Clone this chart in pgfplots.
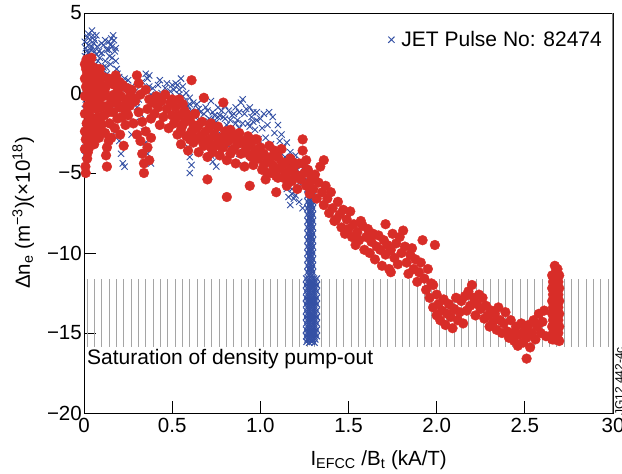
\documentclass[border=0pt]{standalone}
\usepackage{fontspec}
\setmainfont{Liberation Sans}
\usepackage{pgfplots}
\pgfplotsset{compat=1.18}
\definecolor{jblue}{RGB}{52,80,164}
\definecolor{jred}{RGB}{216,45,40}
\definecolor{hatch}{RGB}{165,165,165}
\begin{document}
\begin{tikzpicture}
\begin{axis}[
 scale only axis, width=529bp, height=400bp,
 xmin=0, xmax=3, ymin=-20, ymax=5,
 xtick={0,0.5,1,1.5,2,2.5,3}, xticklabels={0,0.5,1.0,1.5,2.0,2.5,30},
 ytick={-20,-15,-10,-5,0,5}, yticklabels={−20,−15,−10,−5,0,5},
 tick align=inside, xtick pos=bottom, ytick pos=left, major tick length=12bp,
 tick style={black, line width=0.8bp},
 axis line style={black, line width=0.8bp},
 ticklabel style={font=\fontsize{20.5bp}{24bp}\selectfont},
 yticklabel style={inner sep=2bp},
 xticklabel style={inner sep=2bp, yshift=-3bp},
 xlabel={I\textsubscript{EFCC} /B\textsubscript{t} (kA/T)},
 ylabel={Δn\textsubscript{e} (m\textsuperscript{−3})(×10\textsuperscript{18})},
 label style={font=\fontsize{20.5bp}{24bp}\selectfont},
 x label style={at={(axis description cs:0.557,-0.13)}, anchor=base},
 y label style={at={(axis description cs:-0.115,0.5)}, anchor=center},
 legend style={draw=none, fill=none, font=\fontsize{21bp}{25bp}\selectfont,
   at={(rel axis cs:0.985,0.962)}, anchor=north east, inner sep=1bp,
   /tikz/every odd column/.append style={column sep=5bp}},
 legend cell align=left,
]
\pgfplotsinvokeforeach{0,...,71}{
  \draw[hatch, line width=0.9bp] (axis cs:{0.017+#1*0.04162},-11.65) -- (axis cs:{0.017+#1*0.04162},-15.87);
}
% blue: JET pulse
\addplot[only marks, mark=x, mark size=4.4bp, jblue, mark options={line width=0.9bp}] coordinates {
(0.005,3.2)(0.01,2.8)(0.005,2.3)(0.012,1.8)(0.008,1.2)(0.015,0.6)(0.005,0.2)(0.01,-0.4)(0.005,-1.0)(0.012,-1.6)(0.008,-2.2)(0.006,-2.8)(0.01,-3.4)(0.005,-3.9)
(0.02,3.5)(0.025,3.0)(0.03,2.5)(0.02,2.0)(0.035,3.3)(0.04,2.7)(0.045,3.9)(0.05,3.6)(0.055,3.1)(0.06,2.6)(0.05,2.2)(0.065,1.8)(0.07,2.4)(0.075,2.9)(0.08,2.0)(0.085,1.5)(0.09,2.2)(0.095,1.6)(0.03,-0.5)(0.04,-1.2)(0.06,-1.8)(0.035,-2.5)(0.05,-0.3)(0.07,-0.8)(0.08,-1.4)
(0.015,2.6)(0.025,3.7)(0.035,2.1)(0.045,2.9)(0.06,3.3)(0.07,3.6)(0.085,2.6)(0.1,3.1)(0.12,3.3)(0.14,2.7)(0.16,2.2)(0.18,2.8)(0.15,3.0)
(0.10,2.5)(0.11,3.0)(0.12,2.0)(0.125,1.6)(0.13,2.7)(0.14,3.2)(0.145,2.3)(0.15,1.8)(0.155,3.4)(0.16,2.9)(0.165,3.6)(0.17,3.3)(0.175,2.6)(0.18,2.0)(0.185,1.5)(0.19,1.2)(0.2,1.0)(0.13,1.2)(0.11,1.6)(0.12,-1.5)(0.15,-1.9)(0.17,-1.0)(0.18,-2.4)(0.2,-3.0)(0.21,-3.8)(0.22,-4.4)(0.23,-4.6)(0.19,-0.6)
(0.21,0.6)(0.23,0.9)(0.24,0.3)(0.25,0.8)(0.26,-0.2)(0.27,0.4)(0.28,-0.6)(0.29,0.1)(0.30,-0.9)(0.31,-0.4)(0.32,-1.3)(0.33,0.7)(0.34,-2.4)(0.35,1.2)(0.36,0.9)(0.37,0.4)(0.37,1.1)(0.38,-0.1)(0.39,0.3)(0.40,-0.5)(0.41,-0.3)(0.42,0.5)(0.43,0.8)(0.44,0.0)(0.45,-0.7)(0.46,0.3)(0.47,0.6)(0.48,-0.4)(0.49,0.1)(0.50,0.5)(0.35,-3.1)(0.36,-3.8)(0.38,-4.4)(0.29,-1.8)(0.27,-2.6)
(0.51,0.2)(0.52,-0.3)(0.53,0.5)(0.54,-0.1)(0.55,0.9)(0.56,0.4)(0.57,-0.5)(0.58,0.0)(0.59,-0.8)(0.60,-0.3)(0.61,-1.1)(0.62,-0.6)(0.63,-1.5)(0.64,-2.1)(0.65,-1.0)(0.66,-1.7)(0.67,-0.4)(0.68,-1.3)(0.69,-0.9)(0.70,-2.0)(0.71,-1.6)(0.72,-0.5)(0.73,-1.2)(0.74,-2.3)(0.75,-1.8)(0.76,-0.9)(0.77,-1.4)(0.78,-2.6)(0.79,-1.5)(0.80,-0.8)(0.81,-2.0)(0.82,-1.1)(0.83,-1.7)(0.84,-2.4)(0.85,-1.3)(0.86,-0.9)(0.87,-1.7)(0.88,-2.2)(0.89,-0.6)(0.90,-0.4)(0.91,-1.3)(0.92,-2.7)(0.93,-1.9)(0.94,-0.9)(0.95,-1.5)(0.96,-1.2)(0.97,-2.3)(0.98,-1.7)(0.99,-2.9)(1.00,-1.6)
(0.52,0.6)(0.54,0.2)(0.56,-0.2)(0.58,-0.9)(0.6,-0.7)(0.62,-1.3)(0.64,-0.7)(0.66,-1.2)(0.68,-1.8)(0.7,-1.1)(0.72,-1.7)(0.74,-1.4)(0.76,-1.5)(0.78,-1.1)(0.8,-1.6)(0.82,-2.2)(0.84,-1.4)(0.86,-1.9)(0.88,-1.2)(0.9,-1.9)(0.92,-1.0)(0.94,-2.1)(0.96,-1.8)(0.98,-1.2)
(0.60,-4.0)(0.60,-5.0)(0.61,-4.5)(0.59,-3.4)(0.73,-4.3)(0.74,-3.6)(0.72,-3.9)(0.70,-3.0)(0.90,-4.5)(0.88,-3.8)(0.82,-3.3)(0.75,-4.6)
(1.01,-2.2)(1.02,-1.3)(1.03,-2.8)(1.04,-2.0)(1.05,-1.2)(1.06,-3.2)(1.07,-1.5)(1.08,-2.5)(1.09,-3.6)(1.10,-2.0)(1.11,-3.0)(1.12,-2.6)(1.13,-3.4)(1.14,-4.0)(1.15,-3.1)(1.16,-4.4)(1.17,-3.7)(1.18,-5.0)(1.19,-4.2)(1.20,-6.4)(1.20,-3.9)(1.21,-4.8)(1.22,-5.6)(1.23,-4.5)(1.24,-5.2)(1.25,-4.6)(1.26,-5.4)(1.27,-4.9)(1.28,-5.0)(1.19,-6.6)(1.18,-6.0)(1.21,-5.9)
(1.15,-6.0)(1.16,-6.5)(1.17,-7.0)(1.18,-6.3)(1.22,-6.8)(1.24,-7.2)
};
\addlegendentry{JET Pulse No: 82474}
% blue: dense column near 1.28 kA/T
\addplot[only marks, mark=x, mark size=4.4bp, jblue, mark options={line width=1.1bp}, forget plot] coordinates {
(1.268,-6.0)(1.284,-6.0)(1.298,-6.0)(1.276,-6.2)(1.292,-6.2)
(1.268,-6.4)(1.284,-6.4)(1.298,-6.4)(1.276,-6.6)(1.292,-6.6)
(1.268,-6.8)(1.284,-6.8)(1.298,-6.8)(1.276,-7.0)(1.292,-7.0)
(1.268,-7.2)(1.284,-7.2)(1.298,-7.2)(1.276,-7.4)(1.292,-7.4)
(1.268,-7.6)(1.284,-7.6)(1.298,-7.6)(1.276,-7.8)(1.292,-7.8)
(1.268,-8.0)(1.284,-8.0)(1.298,-8.0)(1.276,-8.2)(1.292,-8.2)
(1.268,-8.4)(1.284,-8.4)(1.298,-8.4)(1.276,-8.6)(1.292,-8.6)
(1.268,-8.8)(1.284,-8.8)(1.298,-8.8)(1.276,-9.0)(1.292,-9.0)
(1.268,-9.2)(1.284,-9.2)(1.298,-9.2)(1.276,-9.4)(1.292,-9.4)
(1.268,-9.6)(1.284,-9.6)(1.298,-9.6)(1.276,-9.8)(1.292,-9.8)
(1.268,-10.0)(1.284,-10.0)(1.298,-10.0)(1.276,-10.2)(1.292,-10.2)
(1.268,-10.4)(1.284,-10.4)(1.298,-10.4)(1.276,-10.6)(1.292,-10.6)
(1.268,-10.8)(1.284,-10.8)(1.298,-10.8)(1.276,-11.0)(1.292,-11.0)
(1.268,-11.2)(1.284,-11.2)(1.298,-11.2)(1.276,-11.4)(1.292,-11.4)
(1.26,-11.6)(1.275,-11.6)(1.29,-11.6)(1.305,-11.6)(1.32,-11.6)(1.267,-11.8)(1.282,-11.8)(1.297,-11.8)(1.312,-11.8)
(1.26,-12.0)(1.275,-12.0)(1.29,-12.0)(1.305,-12.0)(1.32,-12.0)(1.267,-12.2)(1.282,-12.2)(1.297,-12.2)(1.312,-12.2)
(1.26,-12.4)(1.275,-12.4)(1.29,-12.4)(1.305,-12.4)(1.32,-12.4)(1.267,-12.6)(1.282,-12.6)(1.297,-12.6)(1.312,-12.6)
(1.26,-12.8)(1.275,-12.8)(1.29,-12.8)(1.305,-12.8)(1.32,-12.8)(1.267,-13.0)(1.282,-13.0)(1.297,-13.0)(1.312,-13.0)
(1.26,-13.2)(1.275,-13.2)(1.29,-13.2)(1.305,-13.2)(1.32,-13.2)(1.267,-13.4)(1.282,-13.4)(1.297,-13.4)(1.312,-13.4)
(1.26,-13.6)(1.275,-13.6)(1.29,-13.6)(1.305,-13.6)(1.32,-13.6)(1.267,-13.8)(1.282,-13.8)(1.297,-13.8)(1.312,-13.8)
(1.26,-14.0)(1.275,-14.0)(1.29,-14.0)(1.305,-14.0)(1.32,-14.0)(1.267,-14.2)(1.282,-14.2)(1.297,-14.2)(1.312,-14.2)
(1.26,-14.4)(1.275,-14.4)(1.29,-14.4)(1.305,-14.4)(1.32,-14.4)(1.267,-14.6)(1.282,-14.6)(1.297,-14.6)(1.312,-14.6)
(1.26,-14.8)(1.275,-14.8)(1.29,-14.8)(1.305,-14.8)(1.32,-14.8)(1.267,-15.0)(1.282,-15.0)(1.297,-15.0)(1.312,-15.0)
(1.26,-15.2)(1.275,-15.2)(1.29,-15.2)(1.305,-15.2)(1.32,-15.2)(1.267,-15.4)(1.282,-15.4)(1.297,-15.4)(1.312,-15.4)
(1.262,-15.55)(1.277,-15.6)(1.292,-15.55)(1.307,-15.6)
};
% red
\addplot[only marks, mark=*, mark size=4.9bp, jred, mark options={draw=none, fill=jred}, forget plot] coordinates {
(0.005,1.8)(0.005,0.9)(0.005,-0.2)(0.005,-1.3)(0.005,-2.4)(0.005,-3.5)(0.008,-4.6)(0.01,-5.0)
(0.015,2.1)(0.018,1.2)(0.015,0.3)(0.02,-0.8)(0.015,-1.9)(0.02,-3.0)(0.018,-4.1)
(0.03,1.9)(0.03,0.8)(0.028,-0.3)(0.032,-1.4)(0.03,-2.5)(0.03,-3.4)
(0.042,2.2)(0.045,1.3)(0.04,0.2)(0.045,-0.9)(0.042,-2.0)(0.045,-2.9)
(0.055,1.6)(0.058,0.6)(0.055,-0.5)(0.06,-1.6)(0.055,-2.6)(0.058,-3.2)
(0.07,1.2)(0.068,0.1)(0.072,-1.0)(0.07,-2.1)(0.075,-0.5)(0.08,0.8)(0.082,-1.5)(0.085,-2.8)(0.09,0.3)(0.095,-0.9)(0.09,1.5)(0.1,-2.0)(0.1,0.5)
(0.012,0.4)(0.022,1.6)(0.025,-1.1)(0.035,-2.0)(0.038,1.0)(0.048,-0.3)(0.05,-1.6)(0.062,0.9)(0.065,-2.4)(0.078,0.2)(0.08,-2.3)(0.088,-0.3)(0.092,-1.8)(0.098,1.0)(0.01,-2.9)(0.022,-3.7)(0.012,1.5)
(0.11,1.0)(0.11,-0.2)(0.115,-1.4)(0.12,-2.5)(0.125,0.4)(0.13,-3.4)(0.13,-4.6)(0.135,-0.8)(0.14,0.9)(0.145,-1.9)(0.15,-0.3)(0.155,-2.8)(0.16,0.6)(0.165,-1.2)(0.17,-0.1)(0.175,-2.2)(0.18,1.1)(0.185,-0.6)(0.19,-1.6)(0.195,0.2)(0.2,-0.9)(0.205,-2.6)(0.21,-0.2)(0.215,-1.5)(0.22,0.5)(0.225,-3.3)(0.23,-1.0)(0.235,-2.0)(0.24,-0.4)(0.245,0.3)(0.25,-1.4)
(0.105,-0.8)(0.12,0.0)(0.14,-1.2)(0.16,-0.6)(0.175,0.5)(0.19,-0.2)(0.2,0.7)(0.22,-0.8)(0.24,-1.2)(0.26,0.1)(0.28,-0.3)(0.125,-3.9)(0.14,-3.0)
(0.26,-0.8)(0.27,0.2)(0.28,-1.9)(0.29,-0.5)(0.30,1.1)(0.30,-2.6)(0.31,0.6)(0.31,-1.2)(0.32,-3.0)(0.32,-0.1)(0.33,-1.8)(0.33,-3.8)(0.34,-4.4)(0.34,-5.0)(0.35,-2.4)(0.35,0.2)(0.36,-3.4)(0.36,-1.0)(0.37,-4.2)(0.37,-0.4)(0.38,-2.8)(0.38,-1.6)(0.39,-0.6)(0.40,-1.3)(0.41,-0.2)(0.42,-0.9)(0.43,-2.0)(0.44,-0.5)(0.45,-1.5)(0.46,-0.1)(0.47,-1.0)(0.48,-2.2)(0.49,-0.6)(0.50,-1.4)(0.50,-0.4)
(0.51,-1.9)(0.52,-0.9)(0.53,-2.6)(0.54,-1.4)(0.55,-3.2)(0.56,-2.0)(0.57,-1.1)(0.58,-2.7)(0.59,-3.6)(0.60,-1.7)(0.61,0.8)(0.61,-2.4)(0.62,-3.1)(0.63,-1.3)(0.64,-2.2)(0.65,-3.7)(0.66,-2.7)(0.67,-1.8)(0.68,-0.3)(0.68,-3.3)(0.69,-2.4)(0.70,-5.4)(0.70,-4.0)(0.71,-2.9)(0.72,-1.9)(0.73,-3.7)(0.74,-2.6)(0.75,-3.2)(0.76,-2.1)(0.77,-3.9)(0.78,-2.8)(0.79,-0.6)(0.79,-3.4)(0.80,-2.4)(0.81,-6.5)(0.81,-4.2)(0.82,-3.0)(0.83,-2.3)(0.84,-3.6)(0.85,-2.8)(0.86,-4.4)(0.87,-3.2)(0.88,-2.5)(0.89,-3.8)(0.90,-3.0)(0.91,-4.6)(0.92,-3.4)(0.93,-2.7)(0.94,-5.8)(0.94,-3.9)(0.95,-3.1)(0.96,-4.5)(0.97,-3.6)(0.98,-2.9)(0.99,-4.1)(1.00,-3.4)
(0.52,-1.6)(0.55,-2.3)(0.57,-1.8)(0.6,-2.9)(0.62,-2.0)(0.63,-2.8)(0.65,-2.0)(0.67,-3.0)(0.69,-3.0)(0.71,-2.2)(0.72,-3.4)(0.74,-3.3)(0.76,-2.8)(0.78,-3.4)(0.8,-3.1)(0.82,-2.6)(0.83,-3.8)(0.85,-3.5)(0.87,-2.6)(0.89,-3.1)(0.91,-3.7)(0.93,-3.3)(0.95,-4.0)(0.97,-2.9)(0.99,-3.5)(0.56,-0.7)(0.58,-1.3)(0.54,-0.4)
(1.01,-4.8)(1.02,-3.8)(1.03,-5.4)(1.04,-4.2)(1.05,-3.3)(1.06,-5.0)(1.07,-4.5)(1.08,-3.6)(1.09,-6.2)(1.09,-5.2)(1.10,-4.0)(1.11,-4.7)(1.12,-3.5)(1.13,-5.3)(1.14,-4.4)(1.15,-5.8)(1.16,-4.9)(1.17,-4.1)(1.18,-5.5)(1.19,-4.6)(1.20,-5.1)(1.21,-6.0)(1.22,-4.4)(1.23,-5.4)(1.24,-2.9)(1.24,-3.6)(1.25,-5.0)(1.26,-5.8)(1.27,-4.8)(1.28,-6.3)(1.29,-5.3)(1.30,-6.0)
(1.02,-4.5)(1.04,-5.0)(1.06,-4.0)(1.08,-4.8)(1.1,-5.3)(1.12,-4.3)(1.14,-5.0)(1.16,-5.4)(1.18,-4.7)(1.2,-4.4)(1.22,-5.2)(1.24,-4.4)(1.26,-4.2)(1.28,-5.6)(1.3,-5.2)
(1.31,-5.1)(1.32,-6.6)(1.33,-5.6)(1.34,-4.6)(1.35,-6.2)(1.36,-4.2)(1.36,-7.0)(1.37,-5.8)(1.38,-6.6)(1.39,-7.5)(1.40,-6.2)(1.41,-7.2)(1.42,-8.0)(1.43,-7.9)(1.44,-6.8)(1.45,-7.6)(1.46,-8.4)(1.47,-7.3)(1.48,-8.8)(1.49,-7.9)(1.50,-8.5)(1.51,-7.4)(1.52,-9.0)(1.53,-8.2)(1.54,-9.5)(1.55,-8.7)(1.56,-9.2)(1.57,-8.0)(1.58,-8.3)(1.59,-9.8)(1.60,-9.0)
(1.61,-8.5)(1.62,-10.0)(1.63,-9.3)(1.64,-8.8)(1.65,-10.4)(1.66,-9.6)(1.67,-8.9)(1.68,-9.8)(1.69,-10.8)(1.70,-9.2)(1.71,-8.2)(1.71,-10.1)(1.72,-9.5)(1.73,-11.0)(1.74,-11.2)(1.74,-9.8)(1.75,-8.8)(1.76,-10.3)(1.77,-9.4)(1.78,-10.7)(1.79,-9.0)(1.80,-10.0)(1.81,-8.6)(1.82,-9.6)(1.83,-10.6)(1.84,-11.3)(1.85,-10.1)(1.86,-9.7)(1.87,-11.0)(1.88,-10.4)(1.89,-11.8)(1.90,-11.2)(1.91,-10.6)(1.92,-9.2)(1.93,-11.6)(1.94,-12.3)(1.95,-11.0)(1.96,-12.8)(1.97,-11.9)(1.98,-12.0)(1.98,-13.4)(1.99,-9.5)(2.00,-12.6)(2.00,-13.9)
(2.01,-13.2)(2.02,-14.2)(2.03,-13.6)(2.04,-12.9)(2.05,-14.5)(2.06,-13.8)(2.07,-13.2)(2.08,-14.0)(2.09,-14.7)(2.10,-13.5)(2.11,-12.8)(2.12,-14.2)(2.13,-13.7)(2.14,-13.0)(2.15,-14.4)(2.16,-12.7)(2.17,-13.6)(2.18,-12.4)(2.19,-13.3)(2.20,-12.0)(2.21,-12.8)(2.22,-13.9)(2.23,-13.2)(2.24,-12.6)(2.25,-13.5)(2.26,-12.8)(2.27,-14.1)(2.28,-13.3)(2.29,-13.9)(2.30,-14.6)(2.31,-13.6)(2.32,-14.3)(2.33,-13.8)(2.34,-14.8)(2.35,-13.4)(2.36,-14.2)(2.37,-15.0)(2.38,-14.4)(2.39,-13.7)(2.40,-14.9)(2.41,-15.3)(2.42,-14.2)(2.43,-15.0)(2.44,-15.5)(2.45,-14.6)(2.46,-15.8)(2.47,-15.1)(2.48,-14.4)(2.49,-15.6)(2.50,-14.8)(2.51,-16.6)(2.51,-15.3)(2.52,-14.5)(2.53,-15.9)(2.54,-15.0)(2.55,-14.2)(2.56,-15.4)(2.57,-14.6)(2.58,-13.8)(2.59,-15.0)(2.60,-14.3)(2.61,-13.6)(2.62,-15.2)
(2.67,-10.8)(2.685,-11.0)(2.675,-11.2)
(2.655,-11.4)(2.665,-11.4)(2.675,-11.4)(2.685,-11.4)(2.695,-11.4)
(2.66,-11.8)(2.67,-11.8)(2.68,-11.8)(2.69,-11.8)
(2.655,-12.2)(2.665,-12.2)(2.675,-12.2)(2.685,-12.2)(2.695,-12.2)
(2.66,-12.6)(2.67,-12.6)(2.68,-12.6)(2.69,-12.6)
(2.655,-13.0)(2.665,-13.0)(2.675,-13.0)(2.685,-13.0)(2.695,-13.0)
(2.66,-13.4)(2.67,-13.4)(2.68,-13.4)(2.69,-13.4)
(2.655,-13.8)(2.665,-13.8)(2.675,-13.8)(2.685,-13.8)(2.695,-13.8)
(2.66,-14.2)(2.67,-14.2)(2.68,-14.2)(2.69,-14.2)
(2.655,-14.6)(2.665,-14.6)(2.675,-14.6)(2.685,-14.6)(2.695,-14.6)
(2.66,-15.0)(2.67,-15.0)(2.68,-15.0)(2.69,-15.0)
(2.655,-15.4)(2.665,-15.4)(2.675,-15.4)(2.685,-15.4)(2.695,-15.5)
};
\node[anchor=base west, inner sep=0, font=\fontsize{21bp}{25bp}\selectfont] at (axis cs:0.017,-16.99) {Saturation of density pump-out};
\draw[gray, line width=1.6bp] (rel axis cs:1,0) -- (rel axis cs:1,1);
\end{axis}
\node[rotate=90, anchor=north west, inner sep=0, font=\fontsize{12bp}{14bp}\selectfont] at (531bp,-3bp) {JG12.442-4c};
\pgfresetboundingbox
\path (-84bp,-61bp) rectangle (538bp,413bp);
\end{tikzpicture}
\end{document}
